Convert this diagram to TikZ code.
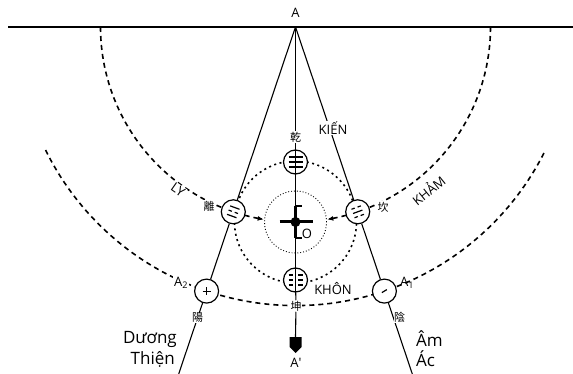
\documentclass[tikz,border=0pt]{standalone}
\usepackage{fontspec}
\setmainfont{Open Sans}
\newfontfamily\cjk{Noto Sans CJK SC}
\usetikzlibrary{calc,arrows.meta}
\begin{document}
\begin{tikzpicture}[x=1pt,y=-1pt,
 mainline/.style={line width=1.1pt},
 bigdash/.style={line width=1.6pt, dash pattern=on 5pt off 4pt},
 middot/.style={line width=1.6pt, dash pattern=on 2pt off 3.5pt},
 finedot/.style={line width=0.9pt, dash pattern=on 0.9pt off 2pt},
 gua/.style={circle, draw, line width=1.2pt, fill=white, minimum size=24pt, inner sep=0pt},
 yao/.style={line width=1.2pt},
 lbl/.style={font=\fontsize{13}{13}\selectfont, inner sep=1pt},
 big/.style={font=\fontsize{17}{20}\selectfont, inner sep=0pt, align=right},
 han/.style={font=\cjk\fontsize{11}{11}\selectfont, inner sep=0.5pt, fill=white},
 tip/.style={-{Latex[length=6pt,width=5pt]}},
]
\useasboundingbox (0,0) rectangle (573,374);
\coordinate (A) at (295.5,27);
\coordinate (O) at (295.5,222);
\coordinate (L) at (8,27);
\coordinate (R) at (573,27);
\coordinate (EL) at (178.7,373.9);
\coordinate (ER) at (412.3,373.9);
\coordinate (Aptop) at (295.5,337);

% horizon
\draw[line width=1.8pt] (L) -- (R);

% big dashed arcs centred at A
\draw[bigdash] plot[domain=180:112.1, samples=80] ({295.5+195*cos(\x)},{27+195*sin(\x)});
\draw[bigdash] plot[domain=0:67.9, samples=80] ({295.5+195*cos(\x)},{27+195*sin(\x)});
\draw[bigdash,tip] plot[domain=105.1:99.4, samples=12] ({295.5+195*cos(\x)},{27+195*sin(\x)});
\draw[bigdash,tip] plot[domain=74.9:80.6, samples=12] ({295.5+195*cos(\x)},{27+195*sin(\x)});
\draw[bigdash] plot[domain=153.8:26.2, samples=120] ({295.5+278.6*cos(\x)},{27+278.6*sin(\x)});

% dotted circles round O
\draw[middot] (O) circle[radius=61pt];
\draw[finedot] (O) circle[radius=31pt];

% trigram nodes
\node[gua] (Ly) at (233.3,211.8) {};
\node[gua] (Kham) at (357.7,211.8) {};
\node[gua] (A2) at (206.6,291.1) {};
\node[gua] (A1) at (384.4,291.1) {};
\node[gua] (Kien) at (295.5,162) {};
\node[gua] (Khon) at (295.5,280) {};

% main lines
\draw[mainline] (A) -- (Ly) -- (A2) -- (EL);
\draw[mainline] (A) -- (Kham) -- (A1) -- (ER);
\draw[mainline] (A) -- (Kien) -- (Khon);
\draw[mainline] (Kien.north) -- (Kien.south);
\draw[mainline] (Khon.north) -- (Khon.south);

% character labels
\node[han] (khonch) at (296,306) {坤};
\draw[mainline] (Khon) -- (khonch) -- (Aptop);
\node[han] (kiench) at (295.5,137) {乾};
\node[han] (lych) at (209,206) {離};
\node[han] (khamch) at (383,207) {坎};
\node[han] (duongch) at (197.5,318) {陽};
\node[han] (amch) at (399.5,317) {陰};

% trigrams
\begin{scope}[shift={(Kien)}]
 \foreach \yy in {-5,0,5} \draw[yao] (-7,\yy) -- (7,\yy);
\end{scope}
\begin{scope}[shift={(Khon)}]
 \foreach \yy in {-5,0,5} {\draw[yao] (-7,\yy) -- (-2.5,\yy); \draw[yao] (2.5,\yy) -- (7,\yy);}
\end{scope}
\begin{scope}[shift={(Ly)}, rotate=-20]
 \draw[yao] (-5,-4.5) -- (5,-4.5);
 \draw[yao] (-5,0) -- (-1.5,0); \draw[yao] (1.5,0) -- (5,0);
 \draw[yao] (-5,4.5) -- (5,4.5);
\end{scope}
\begin{scope}[shift={(Kham)}, rotate=20]
 \draw[yao] (-5,-4.5) -- (-1.5,-4.5); \draw[yao] (1.5,-4.5) -- (5,-4.5);
 \draw[yao] (-5,0) -- (5,0);
 \draw[yao] (-5,4.5) -- (-1.5,4.5); \draw[yao] (1.5,4.5) -- (5,4.5);
\end{scope}
\begin{scope}[shift={(A2)}]
 \draw[yao] (-4,0) -- (4,0); \draw[yao] (0,-4) -- (0,4);
\end{scope}
\begin{scope}[shift={(A1)}]
 \draw[yao] (-2.5,1.5) -- (2.5,-1.5);
\end{scope}

% centre cross
\draw[line width=3pt] (279.5,222) -- (312.5,222);
\draw[line width=2.5pt] (295.5,206) -- (295.5,238);
\draw[line width=1.4pt] (294.5,206) -- (301.5,206);
\draw[line width=1.4pt] (294.5,238) -- (301.5,238);
\fill (O) circle[radius=5pt];

% A' marker
\fill (289.5,337) -- (301.5,337) -- (301.5,347) -- (295.5,353) -- (289.5,347) -- cycle;

% text labels
\node[lbl] (Albl) at (295.5,13) {A};
\node[lbl, fill=white] (kienlbl) at (333,128) {KIẾN};
\node[lbl, fill=white, rotate=-35] (lylbl) at (178,190) {LY};
\node[lbl, rotate=39] (khamlbl) at (428,190) {KHẢM};
\node[lbl] (khonlbl) at (333,289) {KHÔN};
\node[lbl] (Olbl) at (307,234) {O};
\node[lbl, fill=white] (A2lbl) at (181,283) {A\textsubscript{2}};
\node[lbl] (A1lbl) at (407,283) {A\textsubscript{1}};
\node[lbl] (Aplbl) at (296,363) {A′};
\node[big, anchor=east] (duong) at (177,339) {Dương};
\node[big, anchor=east] (thien) at (175,359) {Thiện};
\node[big, anchor=west] (am) at (416,339) {Âm};
\node[big, anchor=west] (ac) at (416,359) {Ác};
\end{tikzpicture}
\end{document}
